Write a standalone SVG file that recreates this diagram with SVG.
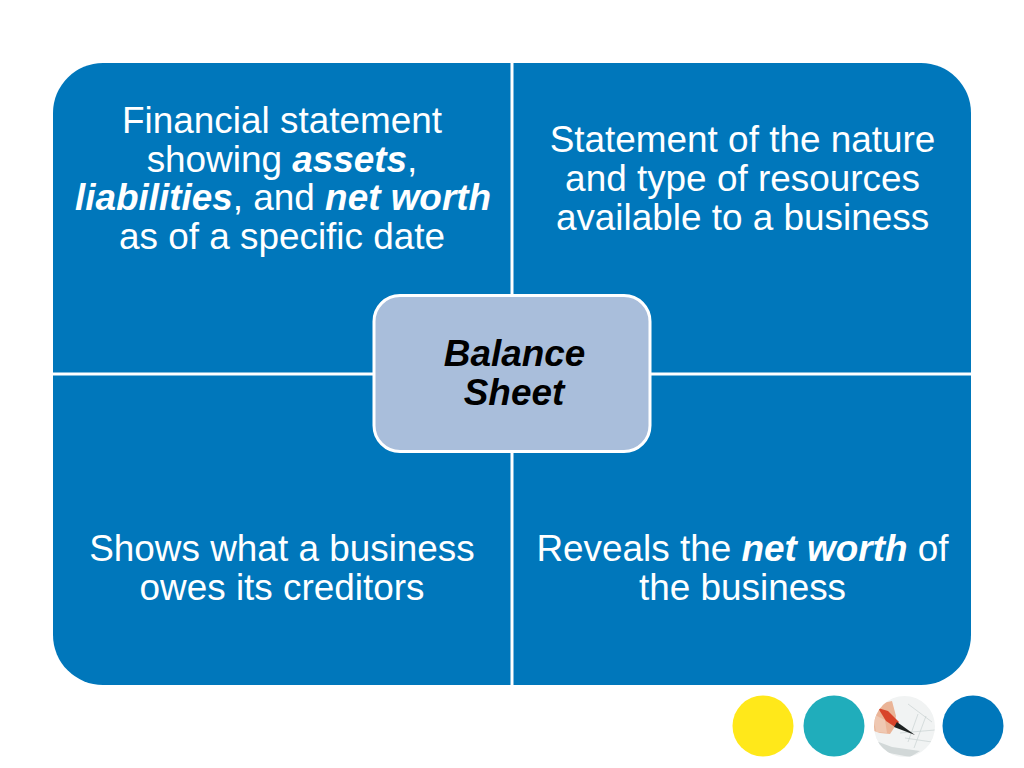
<svg xmlns="http://www.w3.org/2000/svg" width="1024" height="768" viewBox="0 0 1024 768">
<style>
.t{font-family:"Liberation Sans",Arial,sans-serif;font-size:36.900px;fill:#fff;text-anchor:middle}
.c{font-family:"Liberation Sans",Arial,sans-serif;font-size:36.900px;fill:#000;text-anchor:middle;font-weight:bold;font-style:italic}
.b{font-weight:bold;font-style:italic}
.l{stroke:#fff;stroke-width:3;fill:none}
.g{stroke:#c3cccc;stroke-width:.6;fill:none}
</style>
<defs><clipPath id="pc"><circle cx="904.500" cy="726.500" r="30.500"/></clipPath></defs>
<rect width="1024" height="768" fill="#fff"/>
<g id="panel"><rect x="53" y="63" width="918" height="622" rx="50" ry="50" fill="#0077bb"/></g>
<g id="connectors">
<line class="l" x1="512" y1="63" x2="512" y2="685"/>
<line class="l" x1="53" y1="374" x2="971" y2="374"/>
</g>
<g id="node-top-left"><text class="t" x="282" y="132.500">Financial statement</text>
<text class="t" x="282" y="171.500">showing <tspan class="b">assets</tspan>,</text>
<text class="t" x="283" y="210"><tspan class="b">liabilities</tspan>, and <tspan class="b">net worth</tspan></text>
<text class="t" x="282" y="248.500">as of a specific date</text></g>
<g id="node-top-right"><text class="t" x="742.500" y="151.500">Statement of the nature</text>
<text class="t" x="742.500" y="190.500">and type of resources</text>
<text class="t" x="742.500" y="229.500">available to a business</text></g>
<g id="node-bottom-left"><text class="t" x="282" y="561">Shows what a business</text>
<text class="t" x="282" y="600">owes its creditors</text></g>
<g id="node-bottom-right"><text class="t" x="742.500" y="561">Reveals the <tspan class="b">net worth</tspan> of</text>
<text class="t" x="742.500" y="600">the business</text></g>
<g id="node-center"><rect x="374" y="295.500" width="276" height="156" rx="26" ry="26" fill="#a9bedb" stroke="#fff" stroke-width="3"/>
<text class="c" x="514.500" y="365.500">Balance</text>
<text class="c" x="514" y="405">Sheet</text></g>
<g id="decor">
<circle cx="763" cy="726" r="30.500" fill="#ffe81a"/>
<circle cx="834" cy="726" r="30.500" fill="#20adbb"/>
<g clip-path="url(#pc)">
<rect x="870" y="692" width="70" height="70" fill="#f1f3f3"/>
<path class="g" d="M908 704L932 722M918 714L908 742M926 716L914 748M905 738L932 742M900 733L935 730"/>
<path d="M876 741L892 747L920 751L910 757L884 752Z" fill="#d2d8d8"/>
<path d="M872 713L883 703L892 701L896 716L894 728L890 734L880 733L874 731L871 722Z" fill="#eab497"/>
<path d="M878 708L888 711L899 722L895 727L886 721Z" fill="#d8432a"/>
<path d="M873 714L885 720L887 733L876 732Z" fill="#efc8b2"/>
<path d="M897 722L915 735L894 727Z" fill="#1e2222"/>
</g>
<circle cx="973" cy="726" r="30.500" fill="#0077bb"/>
</g>
</svg>
